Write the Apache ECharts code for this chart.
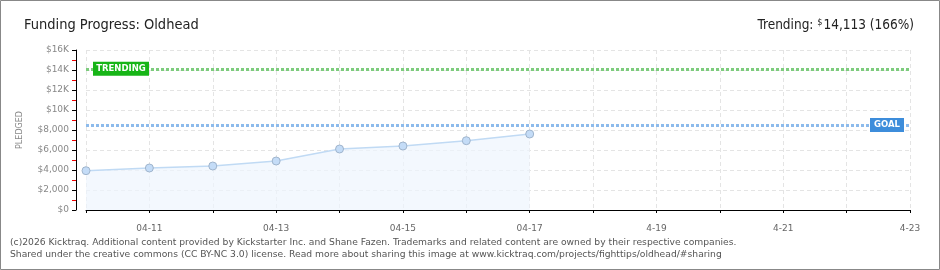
<!DOCTYPE html>
<html><head><meta charset="utf-8">
<script src="https://cdn.jsdelivr.net/npm/echarts@6/dist/echarts.min.js"></script>
<style>html,body{margin:0;padding:0;background:#fff}#c{width:940px;height:270px}</style>
</head><body><div id="c"></div>
<script>
const dates = ['04-10','04-11','04-12','04-13','04-14','04-15','04-16','04-17','4-18','4-19','4-20','4-21','4-22','4-23'];
const pledged = [3930, 4200, 4400, 4900, 6100, 6400, 6930, 7600];
const goal = 8500;
const trending = 14113;
const yTicks = {0:'$0',2000:'$2,000',4000:'$4,000',6000:'$6,000',8000:'$8,000',10000:'$10K',12000:'$12K',14000:'$14K',16000:'$16K'};

const chart = echarts.init(document.getElementById('c'), null, {renderer:'canvas'});
const axisFont = 'DejaVu Sans';
chart.setOption({
  animation:false,
  grid:{left:86,right:30,top:50,bottom:60},
  title:[
    {text:'Funding Progress: Oldhead',left:19,top:13,textStyle:{fontFamily:'DejaVu Sans Condensed',fontSize:14.5,fontWeight:'normal',color:'#222'}},
    {text:'{a|Trending: }{s|$}{a|14,113 (166%)}',right:21,top:13,textStyle:{fontWeight:'normal',rich:{
      a:{fontFamily:'DejaVu Sans Condensed',fontSize:13.5,fontWeight:'normal',color:'#222'},
      s:{fontFamily:'DejaVu Sans Condensed',fontSize:9,fontWeight:'normal',color:'#222',verticalAlign:'top',padding:[0,1,6,0]}}}}
  ],
  graphic:[
    {type:'rect',shape:{x:0.5,y:0.5,width:939,height:269},style:{fill:'none',stroke:'#888',lineWidth:1},silent:true},
    {type:'text',left:10,top:237,style:{text:'(c)2026 Kicktraq. Additional content provided by Kickstarter Inc. and Shane Fazen. Trademarks and related content are owned by their respective companies.\nShared under the creative commons (CC BY-NC 3.0) license. Read more about sharing this image at www.kicktraq.com/projects/fighttips/oldhead/#sharing',fontFamily:'DejaVu Sans',fontSize:9.2,lineHeight:12,fill:'#555'}}
  ],
  xAxis:{type:'category',data:dates,boundaryGap:false,offset:10,
    axisLine:{lineStyle:{color:'#000',width:1}},
    axisTick:{show:true,length:3,interval:0,lineStyle:{color:'#000'}},
    axisLabel:{interval:(i)=>i%2===1,color:'#666',fontFamily:axisFont,fontSize:9,margin:4},
    splitLine:{show:true,interval:0,lineStyle:{color:'#e4e4e4',type:[4,3]}}
  },
  yAxis:{type:'value',min:0,max:16000,interval:2000,offset:10,
    name:'PLEDGED',nameLocation:'middle',nameGap:52,nameTextStyle:{color:'#888',fontFamily:axisFont,fontSize:8},
    axisLine:{show:true,lineStyle:{color:'#000',width:1}},
    axisTick:{show:true,length:4,lineStyle:{color:'#000'}},
    minorTick:{show:true,splitNumber:2,length:4,lineStyle:{color:'#e00'}},
    axisLabel:{formatter:(v)=>yTicks[v]||'',color:'#888',fontFamily:axisFont,fontSize:9,margin:7},
    splitLine:{show:true,lineStyle:{color:'#e4e4e4',type:[4,3]}}
  },
  series:[{
    type:'line',data:pledged,symbol:'circle',symbolSize:8,
    itemStyle:{color:'#c4dcf7',borderColor:'#9fb4cc',borderWidth:1},
    lineStyle:{color:'#c0daf4',width:1.5},
    areaStyle:{color:'#eef5fd'},
    markLine:{silent:true,symbol:'none',label:{show:false},data:[
      {yAxis:trending,lineStyle:{color:'#7dcc7d',type:[3,2],width:3}},
      {yAxis:goal,lineStyle:{color:'#8dbbec',type:[3,2],width:3}}
    ]},
    markPoint:{silent:true,data:[
      {coord:['04-10',trending],symbol:'rect',symbolSize:[56,14],symbolOffset:[35,0],itemStyle:{color:'#17b517'},
        label:{show:true,formatter:'TRENDING',color:'#fff',fontFamily:axisFont,fontSize:8.5,fontWeight:'bold'}},
      {coord:['4-23',goal],symbol:'rect',symbolSize:[34,14],symbolOffset:[-23,0],itemStyle:{color:'#3d8ddb'},
        label:{show:true,formatter:'GOAL',color:'#fff',fontFamily:axisFont,fontSize:8.5,fontWeight:'bold'}}
    ]}
  }]
});
</script></body></html>
